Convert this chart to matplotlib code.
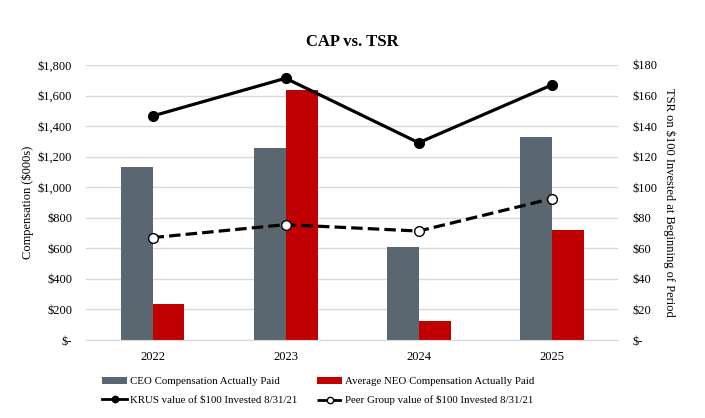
import matplotlib.pyplot as plt
import numpy as np

plt.rcParams['font.family'] = ['Liberation Serif', 'DejaVu Serif']

years = ['2022', '2023', '2024', '2025']
ceo_cap = [1135, 1258, 610, 1328]
neo_cap = [238, 1636, 125, 720]
krus_tsr = [146.6, 171.3, 129.1, 166.9]
peer_tsr = [67.0, 75.5, 71.3, 92.5]

left_ticks = [0, 200, 400, 600, 800, 1000, 1200, 1400, 1600, 1800]
right_ticks = [0, 20, 40, 60, 80, 100, 120, 140, 160, 180]

gray = '#5b6770'
red = '#c00000'
grid_c = '#d9d9d9'

fig = plt.figure(figsize=(7.05, 4.18), dpi=100)
ax = fig.add_axes([0.122, 0.1866, 0.755, 0.658])
ax2 = ax.twinx()

x = np.arange(len(years))
w = 0.24
b1 = ax.bar(x - w / 2, ceo_cap, w, color=gray, zorder=2,
            label='CEO Compensation Actually Paid')
b2 = ax.bar(x + w / 2, neo_cap, w, color=red, zorder=2,
            label='Average NEO Compensation Actually Paid')

l1, = ax2.plot(x, krus_tsr, '-', color='black', lw=2.3, marker='o',
               markersize=7, markerfacecolor='black', zorder=3,
               label='KRUS value of $100 Invested 8/31/21')
l2, = ax2.plot(x, peer_tsr, '--', color='black', lw=2.3, marker='o',
               markersize=7, markerfacecolor='white', markeredgecolor='black',
               markeredgewidth=1, dashes=(3.6, 1.6), zorder=3,
               label='Peer Group value of $100 Invested 8/31/21')

ax.set_xlim(-0.5, 3.5)
ax.set_ylim(0, 1800)
ax2.set_ylim(0, 180)
ax.set_yticks(left_ticks)
ax.set_yticklabels(['$-'] + ['${:,}'.format(v) for v in left_ticks[1:]])
ax2.set_yticks(right_ticks)
ax2.set_yticklabels(['$-'] + ['${}'.format(v) for v in right_ticks[1:]])
ax.set_xticks(x)
ax.set_xticklabels(years)

ax.yaxis.grid(True, color=grid_c, lw=1, zorder=0)
ax.set_axisbelow(True)
for a in (ax, ax2):
    for s in a.spines.values():
        s.set_visible(False)
    a.tick_params(which='both', length=0, width=0, labelsize=9)
ax.spines['bottom'].set_visible(True)
ax.spines['bottom'].set_color(grid_c)
ax.tick_params(axis='y', pad=10)
ax2.tick_params(axis='y', pad=10)
ax.tick_params(axis='x', pad=8)

ax.set_ylabel('Compensation ($000s)', fontsize=9, va='center')
ax.yaxis.set_label_coords(-0.109, 0.5)
ax2.set_ylabel('TSR on $100 Invested at Beginning of Period', fontsize=9,
               rotation=270, va='center')
ax2.yaxis.set_label_coords(1.095, 0.5)

fig.text(0.5, 0.9, 'CAP vs. TSR', ha='center', va='center',
         fontsize=12, fontweight='bold')

leg = fig.legend([b1, l1, b2, l2],
                 [b1.get_label(), l1.get_label(), b2.get_label(), l2.get_label()],
                 ncol=2, loc='lower left', bbox_to_anchor=(0.145, 0.03),
                 frameon=False, fontsize=7.8, handlelength=2.3, handleheight=0.6,
                 columnspacing=1.8, labelspacing=0.85, handletextpad=0.3,
                 borderpad=0, borderaxespad=0, markerscale=0.65)
for h in leg.legend_handles[1::2]:
    h.set_linewidth(2.0)

fig.savefig('out.png', dpi=100)
